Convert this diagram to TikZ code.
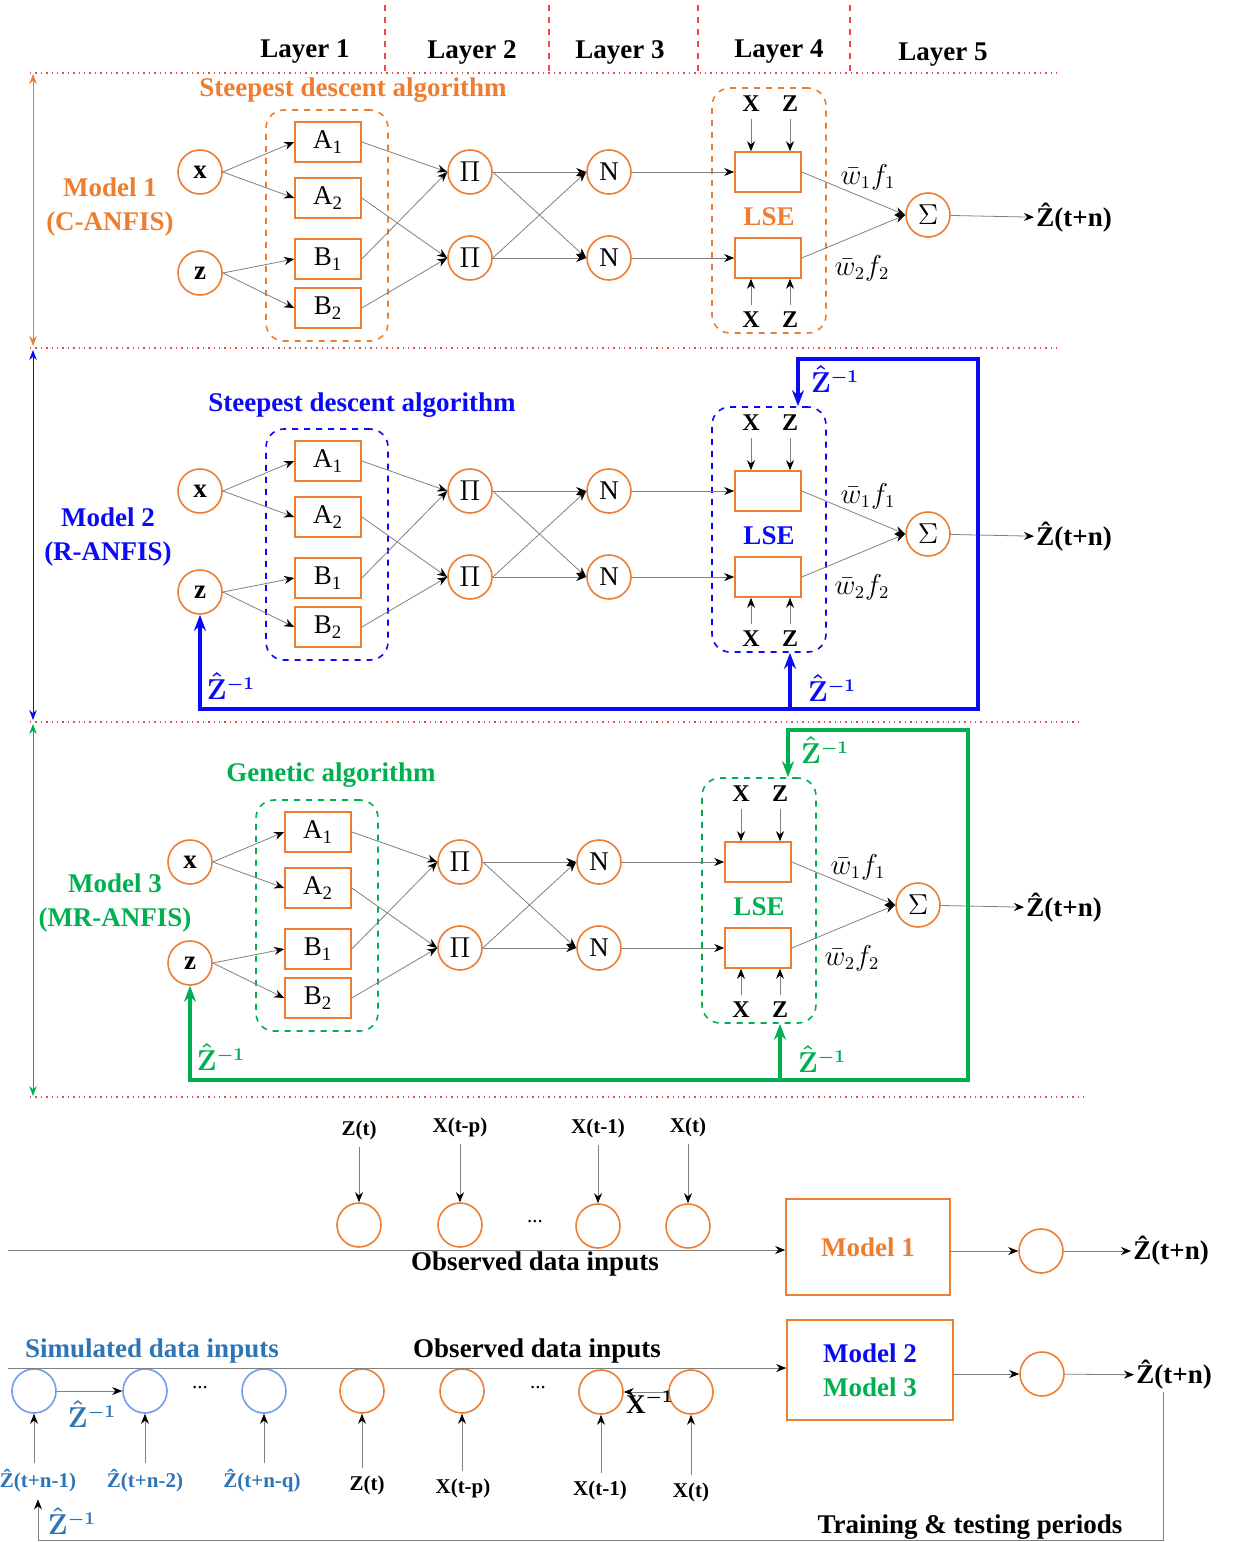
\documentclass[tikz,border=0pt]{standalone}
\usepackage{fontspec}
\setmainfont{Liberation Serif}
\usetikzlibrary{arrows.meta, positioning, calc}
\definecolor{anfisorange}{HTML}{ED7D31}
\definecolor{rblue}{HTML}{0A0AF5}
\definecolor{mrgreen}{HTML}{00B050}
\definecolor{simblue}{HTML}{2E75B6}
\definecolor{simring}{HTML}{6F9BF0}
\definecolor{linkgray}{HTML}{808080}
\definecolor{sepred}{HTML}{F04848}
\newcommand\bigtxt{\fontsize{13.5pt}{17pt}\selectfont}
\newcommand\midtxt{\fontsize{12pt}{14pt}\selectfont}
\newcommand\smalltxt{\fontsize{10.5pt}{12pt}\selectfont}
\newcommand\zinv{{\boldmath$\hat{\mathbf{Z}}^{-1}$}}

\begin{document}
\begin{tikzpicture}[
    x=0.5pt, y=-0.5pt,
    neuron/.style={draw=anfisorange, thick, circle, minimum size=22pt, inner sep=0pt, font=\bigtxt},
    mfbox/.style={draw=anfisorange, thick, minimum width=33pt, minimum height=20pt, inner sep=0pt, font=\bigtxt},
    grp/.style={draw=#1, dashed, thick, rounded corners=9pt},
    link/.style={draw=linkgray, -{Stealth[length=5pt, width=4pt, black]}},
    fbk/.style={line width=1.6pt, -{Stealth[length=8pt, width=6pt]}},
    lbl/.style={font=\bigtxt\bfseries},
    sep/.style={draw=sepred, dotted, line width=0.7pt},
]
    \useasboundingbox (0,0) rectangle (1235,1542);

    % Layer header
    \node[lbl] (lay1) at (305,52) {Layer 1};
    \node[lbl] (lay2) at (472,52) {Layer 2};
    \node[lbl] (lay3) at (620,52) {Layer 3};
    \node[lbl] (lay4) at (779,52) {Layer 4};
    \node[lbl] (lay5) at (943,55) {Layer 5};
    \foreach \lx in {385, 549, 698, 850}
        \draw[sepred, dashed, line width=0.7pt] (\lx,5) -- (\lx,72);
    \draw[sep] (30,73) -- (1060,73);
    \draw[sep] (30,348) -- (1060,348);
    \draw[sep] (30,722) -- (1080,722);
    \draw[sep] (30,1097) -- (1085,1097);
    \draw[anfisorange, {Stealth[length=5pt]}-{Stealth[length=5pt]}] (33,74) -- (33,346);
    \draw[rblue, {Stealth[length=5pt]}-{Stealth[length=5pt]}] (33,350) -- (33,720);
    \draw[mrgreen, {Stealth[length=5pt]}-{Stealth[length=5pt]}] (33,724) -- (33,1096);

    % Model names and training algorithms
    \node[lbl, text=anfisorange, align=center] (name1) at (110,207) {Model 1\\(C-ANFIS)};
    \node[lbl, text=rblue, align=center] (name2) at (108,537) {Model 2\\(R-ANFIS)};
    \node[lbl, text=mrgreen, align=center] (name3) at (115,903) {Model 3\\(MR-ANFIS)};
    \node[lbl, text=anfisorange] (algo1) at (353,90) {Steepest descent algorithm};
    \node[lbl, text=rblue] (algo2) at (362,405) {Steepest descent algorithm};
    \node[lbl, text=mrgreen] (algo3) at (331,775) {Genetic algorithm};

    % The three ANFIS networks
    \foreach \m/\dx/\dy/\mc in {1/0/0/anfisorange, 2/0/319/rblue, 3/-10/690/mrgreen}{
    \begin{scope}[shift={(\dx,\dy)}]
        \node[grp=\mc, minimum width=61pt, minimum height=115.5pt] (mf\m) at (327,225.5) {};
        \node[grp=\mc, minimum width=57pt, minimum height=122.5pt] (lse\m) at (769,210.5) {};
        \node[neuron, font=\bigtxt\bfseries] (x\m) at (200,172) {x};
        \node[neuron, font=\bigtxt\bfseries] (z\m) at (200,273) {z};
        \node[mfbox] (a1-\m) at (328,142) {A\textsubscript{1}};
        \node[mfbox] (a2-\m) at (328,198) {A\textsubscript{2}};
        \node[mfbox] (b1-\m) at (328,259) {B\textsubscript{1}};
        \node[mfbox] (b2-\m) at (328,308) {B\textsubscript{2}};
        \node[neuron] (p1-\m) at (470,172) {$\Pi$};
        \node[neuron] (p2-\m) at (470,258) {$\Pi$};
        \node[neuron] (n1-\m) at (609,172) {N};
        \node[neuron] (n2-\m) at (609,258) {N};
        \node[mfbox] (l1-\m) at (768,172) {};
        \node[mfbox] (l2-\m) at (768,258) {};
        \node[lbl, text=\mc] (lsename\m) at (769,217) {LSE};
        \node[neuron] (s\m) at (928,215) {$\Sigma$};
        \node[lbl, anchor=west, inner sep=1pt] (y\m) at (1034,218) {\^{Z}(t+n)};
        \node[font=\midtxt\bfseries] (tx\m) at (751,104) {X};
        \node[font=\midtxt\bfseries] (tz\m) at (790,104) {Z};
        \node[font=\midtxt\bfseries] (bx\m) at (751,320) {X};
        \node[font=\midtxt\bfseries] (bz\m) at (790,320) {Z};
        \node[font=\bigtxt] (w1-\m) at (868,177) {$\bar{w}_1 f_1$};
        \node[font=\bigtxt] (w2-\m) at (862,268) {$\bar{w}_2 f_2$};

        \draw[link] (x\m.east) -- (a1-\m.west);
        \draw[link] (x\m.east) -- (a2-\m.west);
        \draw[link] (z\m.east) -- (b1-\m.west);
        \draw[link] (z\m.east) -- (b2-\m.west);
        \draw[link] (a1-\m.east) -- (p1-\m.west);
        \draw[link] (b1-\m.east) -- (p1-\m.west);
        \draw[link] (a2-\m.east) -- (p2-\m.west);
        \draw[link] (b2-\m.east) -- (p2-\m.west);
        \draw[link] (p1-\m.east) -- (n1-\m.west);
        \draw[link] (p1-\m.east) -- (n2-\m.west);
        \draw[link] (p2-\m.east) -- (n1-\m.west);
        \draw[link] (p2-\m.east) -- (n2-\m.west);
        \draw[link] (n1-\m) -- (l1-\m);
        \draw[link] (n2-\m) -- (l2-\m);
        \draw[link] (l1-\m.east) -- (s\m.west);
        \draw[link] (l2-\m.east) -- (s\m.west);
        \draw[link] (s\m) -- (y\m);
        \draw[link] (tx\m) -- (tx\m |- l1-\m.north);
        \draw[link] (tz\m) -- (tz\m |- l1-\m.north);
        \draw[link] (bx\m) -- (bx\m |- l2-\m.south);
        \draw[link] (bz\m) -- (bz\m |- l2-\m.south);
    \end{scope}
    }

    % Recurrent feedback of models 2 and 3
    \foreach \m/\dx/\dy/\mc in {2/0/319/rblue, 3/-10/690/mrgreen}{
    \begin{scope}[shift={(\dx,\dy)}, \mc]
        \coordinate (tap\m) at (978,216);
        \coordinate (fbtop\m) at (798,40);
        \coordinate (fbbot\m) at (790,390);
        \draw[fbk] (tap\m) |- (fbtop\m) -- (fbtop\m |- lse\m.north);
        \draw[fbk] (tap\m) |- (z\m |- fbbot\m) -- (z\m.south);
        \draw[fbk] (fbbot\m) -- (fbbot\m |- lse\m.south);
        \node[lbl] (zi-a\m) at (835,60) {\zinv};
        \node[lbl] (zi-b\m) at (231,367) {\zinv};
        \node[lbl] (zi-c\m) at (832,369) {\zinv};
    \end{scope}
    }

    % Model 1: observed inputs only
    \node[neuron] (o1) at (359,1225) {};
    \node[neuron] (o2) at (460,1225) {};
    \node[neuron] (o3) at (598,1226) {};
    \node[neuron] (o4) at (688,1226) {};
    \node[font=\smalltxt\bfseries] (t1) at (359,1130) {Z(t)};
    \node[font=\smalltxt\bfseries] (t2) at (460,1127) {X(t-p)};
    \node[font=\smalltxt\bfseries] (t3) at (598,1128) {X(t-1)};
    \node[font=\smalltxt\bfseries] (t4) at (688,1127) {X(t)};
    \foreach \i in {1,...,4}
        \draw[link] (t\i) -- (o\i);
    \node[font=\smalltxt] (dots1) at (535,1222) {...};
    \node[draw=anfisorange, thick, minimum width=82pt, minimum height=48pt, lbl, text=anfisorange] (mod1) at (868,1247) {Model 1};
    \coordinate (in1) at (8,1250);
    \draw[link] (in1) -- (in1 -| mod1.west);
    \node[lbl] (obs1) at (535,1264) {Observed data inputs};
    \node[neuron] (c1) at (1041,1251) {};
    \draw[link] (mod1.east |- c1) -- (c1);
    \node[lbl, anchor=west, inner sep=1pt] (y4) at (1131,1251) {\^{Z}(t+n)};
    \draw[link] (c1) -- (y4);

    % Models 2 and 3: simulated and observed inputs
    \node[draw=simring, thick, circle, minimum size=22pt] (s1) at (34,1391) {};
    \node[draw=simring, thick, circle, minimum size=22pt] (s2) at (145,1391) {};
    \node[draw=simring, thick, circle, minimum size=22pt] (s3) at (264,1391) {};
    \node[neuron] (o5) at (362,1391) {};
    \node[neuron] (o6) at (462,1391) {};
    \node[neuron] (o7) at (601,1392) {};
    \node[neuron] (o8) at (691,1392) {};
    \node[font=\smalltxt] (dots2) at (200,1388) {...};
    \node[font=\smalltxt] (dots3) at (538,1388) {...};
    \draw[link] (s1) -- (s2);
    \node[lbl, text=simblue] (zs) at (92,1414) {\zinv};
    \draw[link] (o8) -- (o7);
    \node[lbl] (xs) at (650,1402) {X{\boldmath$^{-1}$}};
    \node[font=\smalltxt\bfseries, text=simblue] (u1) at (38,1481) {\^{Z}(t+n-1)};
    \node[font=\smalltxt\bfseries, text=simblue] (u2) at (145,1481) {\^{Z}(t+n-2)};
    \node[font=\smalltxt\bfseries, text=simblue] (u3) at (262,1481) {\^{Z}(t+n-q)};
    \node[font=\smalltxt\bfseries] (u4) at (367,1485) {Z(t)};
    \node[font=\smalltxt\bfseries] (u5) at (463,1488) {X(t-p)};
    \node[font=\smalltxt\bfseries] (u6) at (600,1490) {X(t-1)};
    \node[font=\smalltxt\bfseries] (u7) at (691,1492) {X(t)};
    \draw[link] (s1 |- u1.north) -- (s1.south);
    \draw[link] (s2 |- u2.north) -- (s2.south);
    \draw[link] (s3 |- u3.north) -- (s3.south);
    \draw[link] (o5 |- u4.north) -- (o5.south);
    \draw[link] (o6 |- u5.north) -- (o6.south);
    \draw[link] (o7 |- u6.north) -- (o7.south);
    \draw[link] (o8 |- u7.north) -- (o8.south);
    \node[lbl, text=simblue] (sim) at (152,1351) {Simulated data inputs};
    \node[lbl] (obs2) at (537,1351) {Observed data inputs};
    \node[draw=anfisorange, thick, minimum width=83pt, minimum height=50pt, lbl, align=center] (mod23) at (870,1370) {\textcolor{rblue}{Model 2}\\\textcolor{mrgreen}{Model 3}};
    \coordinate (in2) at (8,1368);
    \draw[link] (in2) -- (in2 -| mod23.west);
    \node[neuron] (c2) at (1042,1374) {};
    \draw[link] (mod23.east |- c2) -- (c2);
    \node[lbl, anchor=west, inner sep=1pt] (y5) at (1134,1375) {\^{Z}(t+n)};
    \draw[link] (c2) -- (y5);
    \coordinate (fb) at (1163,1540);
    \draw[link] (fb |- y5.south) -- (fb) -| (u1.south);
    \node[lbl, text=simblue] (zb) at (72,1521) {\zinv};
    \node[lbl] (period) at (970,1527) {Training \& testing periods};
\end{tikzpicture}
\end{document}
